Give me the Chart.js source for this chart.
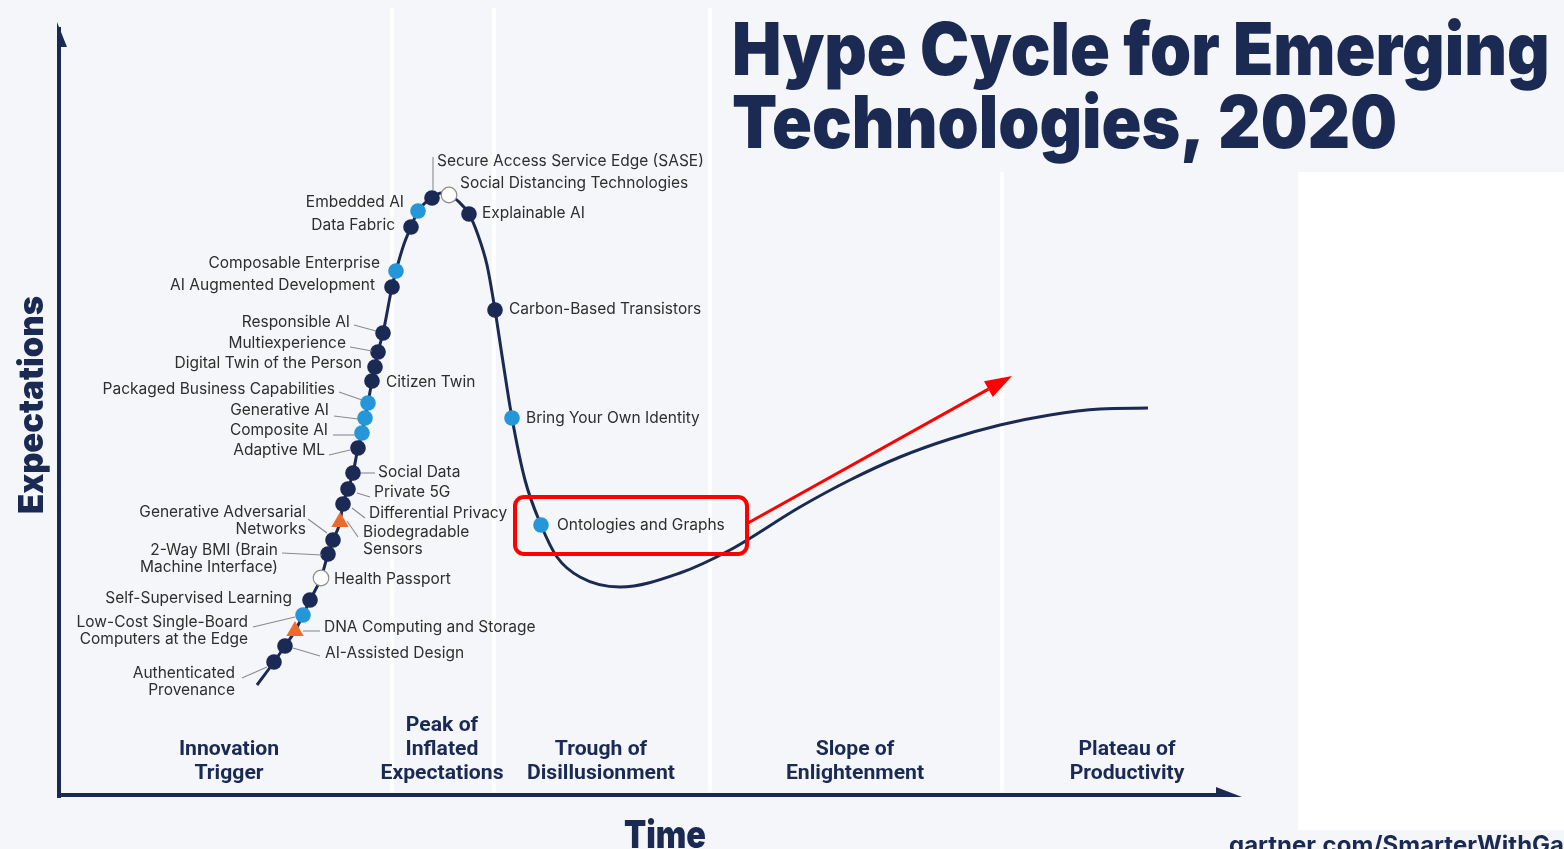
<!DOCTYPE html>
<html>
<head>
<meta charset="utf-8">
<script src="https://cdn.jsdelivr.net/npm/chart.js@4.4.1/dist/chart.umd.min.js"></script>
<style>
html,body{margin:0;padding:0;background:#f5f6f9;overflow:hidden}
canvas{display:block}
</style>
</head>
<body>
<canvas id="hype" width="1564" height="849"></canvas>
<script>
// Teknolojiler (zaman, beklenti) eksen birimlerinde
const techNames = [
  'Authenticated\nProvenance', 'AI-Assisted Design', 'DNA Computing and Storage',
  'Low-Cost Single-Board\nComputers at the Edge', 'Self-Supervised Learning', 'Health Passport',
  '2-Way BMI (Brain\nMachine Interface)', 'Generative Adversarial\nNetworks', 'Biodegradable\nSensors',
  'Differential Privacy', 'Private 5G', 'Social Data', 'Adaptive ML', 'Composite AI', 'Generative AI',
  'Packaged Business Capabilities', 'Citizen Twin', 'Digital Twin of the Person', 'Multiexperience',
  'Responsible AI', 'AI Augmented Development', 'Composable Enterprise', 'Data Fabric', 'Embedded AI',
  'Secure Access Service Edge (SASE)', 'Social Distancing Technologies', 'Explainable AI',
  'Carbon-Based Transistors', 'Bring Your Own Identity', 'Ontologies and Graphs'
];
const techTime = [214,225,235,243,250,261,268,273,280,283,288,293,298,302,305,308,312,315,318,323,332,336,351,358,372,389,409,435,452,481];
const techExp  = [133,149,164,180,195,217,241,255,273,291,306,322,347,362,377,392,414,428,443,462,508,524,568,584,597,600,581,485,377,270];
// plato süresi: lt2 = <2 yıl, 2to5, 5to10, gt10 = >10 yıl
const techPlateau = ['5to10','5to10','gt10','2to5','5to10','lt2','5to10','5to10','gt10','5to10','5to10','5to10','5to10','2to5','2to5','2to5','5to10','5to10','5to10','5to10','5to10','2to5','5to10','2to5','5to10','lt2','5to10','5to10','2to5','2to5'];

// Eğri
const curveTime = [197,214,225,235,243,250,261,268,273,280,283,288,293,298,302,305,308,312,315,318,323,332,336,344,351,358,365,372,381,389,398,409,418,427,435,443,452,465,481,497,520,560,620,670,740,790,840,890,940,990,1040,1088];
const curveExp  = [110,133,149,164,180,195,217,241,255,273,291,306,322,347,362,377,392,414,428,443,462,508,524,551,568,584,592,597,602,600,594,581,560,530,485,433,377,315,270,238,218,208,222,245,288,315,338,356,370,380,386,387];

// Evreler
const phaseNames = [['Innovation','Trigger'], ['Peak of','Inflated','Expectations'], ['Trough of','Disillusionment'], ['Slope of','Enlightenment'], ['Plateau of','Productivity']];
const phaseCenters = [169, 382, 541, 795, 1067];
const phaseBounds = [332, 434, 650, 942];

// Etiket yerleşimi (nokta pikselinden uzaklık): taraf, dx, dy, kılavuz çizgi
const labelLayout = [
  ['L',-39,11,[-32,16,-7,5]], ['R',40,7,[8,2,35,10]], ['R',29,-4,[8,0,25,0]],
  ['L',-55,7,[-50,12,-8,2]], ['L',-18,-2,null], ['R',13,1,null],
  ['L',-50,-4,[-46,-1,-6,1]], ['L',-27,-28,[-25,-21,-6,-7]], ['R',23,10,[7,-1,18,15]],
  ['R',26,9,[9,4,22,14]], ['R',26,3,[9,4,22,8]], ['R',25,-1,[8,0,22,0]],
  ['L',-33,2,[-29,7,-8,2]], ['L',-34,-3,[-29,2,-7,2]], ['L',-36,-8,[-31,-2,-7,1]],
  ['L',-33,-14,[-29,-11,-6,-3]], ['R',14,1,null], ['L',-13,-4,null],
  ['L',-32,-9,[-28,-5,-6,-1]], ['L',-33,-11,[-29,-8,-7,-2]], ['L',-17,-2,null],
  ['L',-16,-8,null], ['L',-16,-2,null], ['L',-14,-9,null],
  ['R',5,-37,[1,-41,1,-8]], ['R',11,-12,null], ['R',13,-1,null],
  ['R',14,-1,null], ['R',14,0,null], ['R',16,0,null]
];

const NAVY = '#1b2a52';
const plateauStyle = {
  lt2:   { bg: '#ffffff', border: '#8d8d8d', bw: 1.2, style: 'circle', r: 7.8 },
  '2to5':  { bg: '#2597d8', border: '#2597d8', bw: 0, style: 'circle', r: 7.8 },
  '5to10': { bg: '#1a2a55', border: '#1a2a55', bw: 0, style: 'circle', r: 7.8 },
  gt10:  { bg: '#ec6a2c', border: '#ec6a2c', bw: 0, style: 'triangle', r: 10 }
};

function fitText(ctx, text, x, y, w, font, align, ref) {
  ctx.font = font;
  const s = w / ctx.measureText(ref || text).width;
  ctx.save();
  ctx.translate(x, y);
  ctx.scale(s, 1);
  ctx.textAlign = align;
  ctx.fillText(text, 0, 0);
  ctx.restore();
}

const backdrop = {
  id: 'backdrop',
  beforeDraw(chart) {
    const { ctx, width, height, scales: { x } } = chart;
    ctx.save();
    ctx.fillStyle = '#f5f6f9';
    ctx.fillRect(0, 0, width, height);
    ctx.fillStyle = '#ffffff';
    ctx.fillRect(1298, 172, width - 1298, 658);
    ctx.strokeStyle = '#ffffff';
    ctx.lineWidth = 4;
    phaseBounds.forEach((b, i) => {
      const px = x.getPixelForValue(b);
      ctx.beginPath();
      ctx.moveTo(px, i === 3 ? 172 : 8);
      ctx.lineTo(px, 792);
      ctx.stroke();
    });
    ctx.restore();
  }
};

const decor = {
  id: 'decor',
  afterDraw(chart) {
    const { ctx, chartArea: a, scales: { x, y } } = chart;
    ctx.save();
    // eksenler
    ctx.fillStyle = NAVY;
    ctx.fillRect(a.left - 3, a.top + 2, 4, a.bottom - a.top + 1);
    ctx.beginPath();
    ctx.moveTo(a.left - 3, a.top - 3);
    ctx.lineTo(a.left + 7, a.top + 22);
    ctx.lineTo(a.left - 3, a.top + 22);
    ctx.fill();
    ctx.fillRect(a.left - 3, a.bottom - 2, a.right - a.left - 20, 4);
    ctx.beginPath();
    ctx.moveTo(a.right + 2, a.bottom + 2);
    ctx.lineTo(a.right - 24, a.bottom - 8);
    ctx.lineTo(a.right - 24, a.bottom + 2);
    ctx.fill();

    // etiketler
    ctx.font = '15.5px Inter';
    ctx.textBaseline = 'middle';
    techNames.forEach((name, i) => {
      const px = x.getPixelForValue(techTime[i]);
      const py = y.getPixelForValue(techExp[i]);
      const [side, dx, dy, lead] = labelLayout[i];
      if (lead) {
        ctx.strokeStyle = '#8a8a8a';
        ctx.lineWidth = 1.1;
        ctx.beginPath();
        ctx.moveTo(px + lead[0], py + lead[1]);
        ctx.lineTo(px + lead[2], py + lead[3]);
        ctx.stroke();
      }
      ctx.fillStyle = '#2e2e2e';
      ctx.textAlign = side === 'L' ? 'right' : 'left';
      name.split('\n').forEach((ln, k) => ctx.fillText(ln, px + dx, py + dy + k * 17));
    });

    // evre adları
    ctx.fillStyle = NAVY;
    ctx.textBaseline = 'middle';
    ctx.font = '700 21px Roboto';
    const ps = 148 / ctx.measureText('Disillusionment').width;
    phaseNames.forEach((lines, i) => {
      const cx = x.getPixelForValue(phaseCenters[i]);
      lines.forEach((ln, k) => {
        const ly = 774 - (lines.length - 1 - k) * 24;
        ctx.save();
        ctx.translate(cx, ly);
        ctx.scale(ps, 1);
        ctx.textAlign = 'center';
        ctx.fillText(ln, 0, 0);
        ctx.restore();
      });
    });

    // başlıklar
    ctx.textBaseline = 'alphabetic';
    ctx.font = '900 73px Inter';
    const ts = 665 / ctx.measureText('Technologies, 2020').width;
    ['Hype Cycle for Emerging', 'Technologies, 2020'].forEach((t, k) => {
      ctx.save();
      ctx.translate(732, 75 + k * 73);
      ctx.scale(ts, 1);
      ctx.textAlign = 'left';
      ctx.fillText(t, 0, 0);
      ctx.restore();
    });
    ctx.save();
    ctx.translate(43, 405);
    ctx.rotate(-Math.PI / 2);
    fitText(ctx, 'Expectations', 0, 0, 218, '900 34px Inter', 'center');
    ctx.restore();
    fitText(ctx, 'Time', 665, 848, 82, '900 38px Inter', 'center');
    fitText(ctx, 'gartner.com/SmarterWithGartner', 1229, 853, 335, '700 24px Inter', 'left', 'gartner.com/SmarterWithGa');

    // kırmızı vurgu
    const ox = x.getPixelForValue(techTime[29]);
    const oy = y.getPixelForValue(techExp[29]);
    ctx.strokeStyle = '#ff0000';
    ctx.fillStyle = '#ff0000';
    ctx.lineWidth = 4;
    ctx.beginPath();
    ctx.roundRect(ox - 26, oy - 28, 232, 57, 9);
    ctx.stroke();
    const sx = ox + 207, sy = oy - 2, tx = ox + 471, ty = oy - 149;
    const ang = Math.atan2(ty - sy, tx - sx);
    const hl = 27, hw = 9;
    const bx = tx - hl * Math.cos(ang), by = ty - hl * Math.sin(ang);
    ctx.lineWidth = 3;
    ctx.beginPath();
    ctx.moveTo(sx, sy);
    ctx.lineTo(bx, by);
    ctx.stroke();
    ctx.beginPath();
    ctx.moveTo(tx, ty);
    ctx.lineTo(bx + hw * Math.sin(ang), by - hw * Math.cos(ang));
    ctx.lineTo(bx - hw * Math.sin(ang), by + hw * Math.cos(ang));
    ctx.closePath();
    ctx.fill();
    ctx.restore();
  }
};

const pointSets = Object.keys(plateauStyle).map(k => {
  const st = plateauStyle[k];
  const idx = techPlateau.map((p, i) => p === k ? i : -1).filter(i => i >= 0);
  return {
    label: k,
    order: 0,
    data: idx.map(i => ({ x: techTime[i], y: techExp[i] })),
    pointStyle: st.style,
    pointRadius: st.r,
    backgroundColor: st.bg,
    borderColor: st.border,
    borderWidth: st.bw,
    clip: false
  };
});

new Chart(document.getElementById('hype'), {
  type: 'scatter',
  data: {
    datasets: [
      ...pointSets,
      {
        label: 'curve',
        order: 1,
        data: curveTime.map((t, i) => ({ x: t, y: curveExp[i] })),
        showLine: true,
        pointRadius: 0,
        borderColor: NAVY,
        borderWidth: 3,
        cubicInterpolationMode: 'monotone',
        clip: false
      }
    ]
  },
  options: {
    responsive: false,
    animation: false,
    devicePixelRatio: 1,
    events: [],
    layout: { padding: { left: 60, top: 25, right: 324, bottom: 54 } },
    plugins: { legend: { display: false }, tooltip: { enabled: false } },
    scales: {
      x: { type: 'linear', min: 0, max: 1180, display: false },
      y: { type: 'linear', min: 0, max: 770, display: false }
    }
  },
  plugins: [backdrop, decor]
});
</script>
</body>
</html>
